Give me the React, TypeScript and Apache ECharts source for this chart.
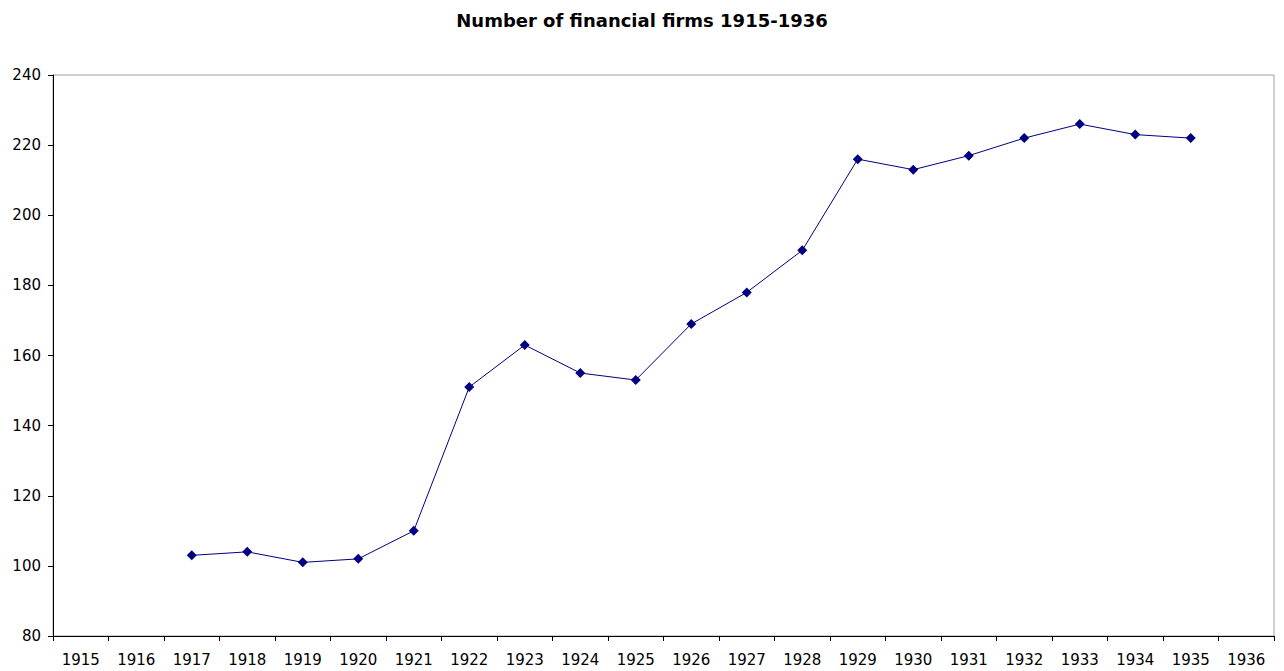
import React, { useEffect, useRef } from "react";
import * as echarts from "echarts";

const years = [
  "1915", "1916", "1917", "1918", "1919", "1920", "1921", "1922", "1923", "1924", "1925",
  "1926", "1927", "1928", "1929", "1930", "1931", "1932", "1933", "1934", "1935", "1936",
];
const firms: (number | null)[] = [
  null, null, 103, 104, 101, 102, 110, 151, 163, 155, 153,
  169, 178, 190, 216, 213, 217, 222, 226, 223, 222, null,
];
const title = "Number of financial firms 1915-1936";

export default function App() {
  const ref = useRef<HTMLDivElement>(null);
  useEffect(() => {
    document.body.style.margin = "0";
    const chart = echarts.init(ref.current!, null, { renderer: "svg" });
    chart.setOption({
      animation: false,
      backgroundColor: "#ffffff",
      title: {
        text: title,
        left: "center",
        top: 6,
        textStyle: {
          fontFamily: "DejaVu Sans",
          fontSize: 18,
          fontWeight: "bold",
          color: "#000",
        },
      },
      grid: {
        left: 53,
        right: 10,
        top: 75,
        bottom: 35,
        show: true,
        borderColor: "#a0a0a0",
        borderWidth: 1,
        containLabel: false,
      },
      xAxis: {
        type: "category",
        data: years,
        boundaryGap: true,
        axisLine: { show: true, lineStyle: { color: "#000", width: 1 } },
        axisTick: { show: true, alignWithLabel: false, length: 5, lineStyle: { color: "#000" } },
        axisLabel: {
          color: "#000",
          fontFamily: "DejaVu Sans",
          fontSize: 15,
          margin: 16,
          interval: 0,
        },
        splitLine: { show: false },
      },
      yAxis: {
        type: "value",
        min: 80,
        max: 240,
        interval: 20,
        axisLine: { show: true, lineStyle: { color: "#000", width: 1 } },
        axisTick: { show: true, length: 5, lineStyle: { color: "#000" } },
        axisLabel: {
          color: "#000",
          fontFamily: "DejaVu Sans",
          fontSize: 15,
          margin: 12,
        },
        splitLine: { show: false },
      },
      series: [
        {
          type: "line",
          data: firms,
          connectNulls: false,
          symbol: "diamond",
          symbolSize: 10,
          lineStyle: { color: "#000080", width: 1 },
          itemStyle: { color: "#000080" },
        },
      ],
    });
    return () => chart.dispose();
  }, []);
  return <div ref={ref} style={{ width: 1284, height: 671 }} />;
}
